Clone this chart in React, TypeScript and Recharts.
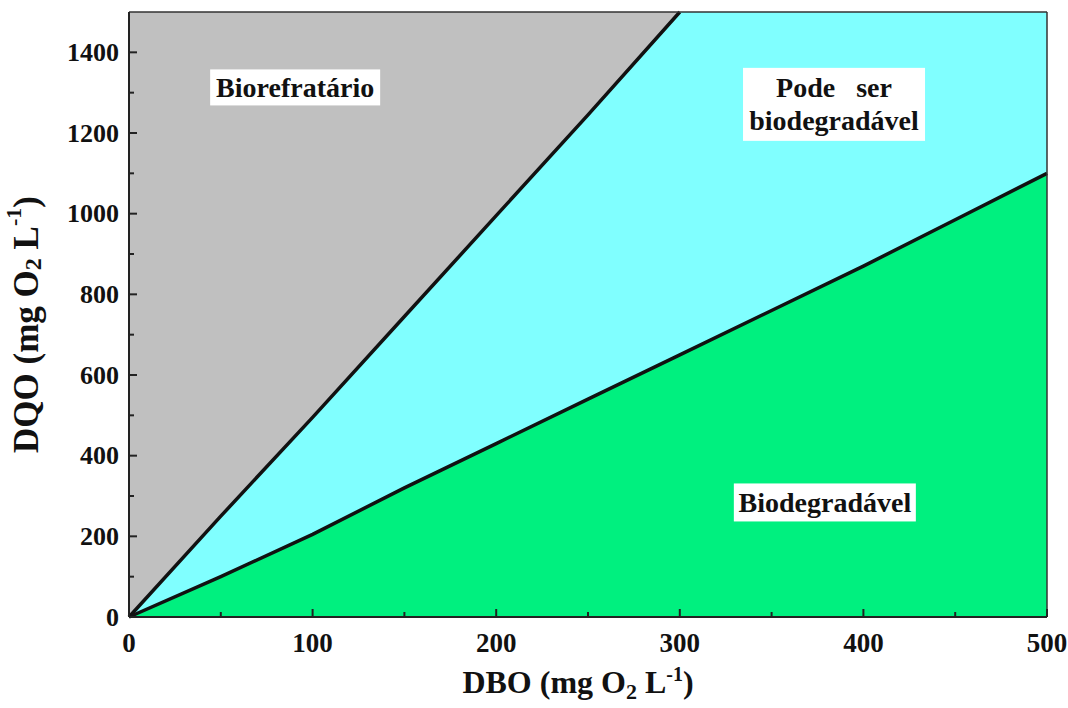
import React from "react"
import { ComposedChart, Area, Line, XAxis, YAxis, CartesianGrid, ReferenceLine, ReferenceDot, Label } from "recharts"

// DBO (x) sample points and the two boundary lines
const dbo = [0, 50, 100, 150, 200, 250, 300, 350, 400, 450, 500]
const dqoUpper = [0, 250, 495, 745, 995, 1245, 1500]
const dqoLower = [0, 100, 205, 320, 430, 540, 650, 760, 870, 985, 1100]
const dqoMax = 1500
const xTicks = [0, 50, 100, 150, 200, 250, 300, 350, 400, 450, 500]
const yTicks = [0, 100, 200, 300, 400, 500, 600, 700, 800, 900, 1000, 1100, 1200, 1300, 1400]

const FONT = "'Liberation Serif', 'DejaVu Serif', 'Times New Roman', serif"
const GRAY = "#c0c0c0"
const CYAN = "#80ffff"
const GREEN = "#00f07f"
const txt = { fontFamily: FONT, fontWeight: 700 }

const data = dbo.map((x, i) => ({
  dbo: x,
  upper: i < dqoUpper.length ? dqoUpper[i] : undefined,
  lower: dqoLower[i],
  refr: i < dqoUpper.length ? [dqoUpper[i], dqoMax] : undefined,
}))

const YTick = (props: any) => {
  const { x, y, payload } = props
  const major = payload.value % 200 === 0
  return (
    <g>
      <line x1={x} x2={x + (major ? 8 : 5)} y1={y} y2={y} stroke="#222" strokeWidth={2} />
      {major && (
        <text x={x - 10} y={y} textAnchor="end" dominantBaseline="central" style={txt} fontSize={26} fill="#111">
          {payload.value}
        </text>
      )}
    </g>
  )
}

const XTick = (props: any) => {
  const { x, y, payload } = props
  const major = payload.value % 100 === 0
  return (
    <g>
      <line x1={x} x2={x} y1={y} y2={y - (major ? 8 : 5)} stroke="#222" strokeWidth={2} />
      {major && (
        <text x={x} y={y + 26} textAnchor="middle" dominantBaseline="central" style={txt} fontSize={27} fill="#111">
          {payload.value}
        </text>
      )}
    </g>
  )
}

const RegionLabel = ({ cx, cy, lines, w, h, fs }: any) => (
  <g>
    <rect x={cx - w / 2} y={cy - h / 2} width={w} height={h} fill="#fff" />
    {lines.map((t: string, i: number) => (
      <text
        key={i}
        x={cx}
        y={cy + (i - (lines.length - 1) / 2) * 33}
        textAnchor="middle"
        dominantBaseline="central"
        fontSize={fs}
        fill="#111"
        style={{ ...txt, whiteSpace: "pre" }}
      >
        {t}
      </text>
    ))}
  </g>
)

export default function App() {
  return (
    <div style={{ position: "absolute", left: 0, top: 0, background: "#fff" }}>
      <ComposedChart width={1068} height={708} data={data} margin={{ top: 12, right: 21, left: 0, bottom: 0 }}>
        <CartesianGrid horizontal={false} vertical={false} fill={CYAN} />
        <XAxis
          dataKey="dbo"
          type="number"
          domain={[0, 500]}
          ticks={xTicks}
          interval={0}
          height={91}
          tickSize={0}
          tickMargin={0}
          tickLine={false}
          tick={<XTick />}
          axisLine={{ stroke: "#222", strokeWidth: 2 }}
        >
          <Label
            content={({ viewBox }: any) => (
              <text x={viewBox.x + viewBox.width / 2 - 10} y={viewBox.y + 76} textAnchor="middle" style={txt} fontSize={32} fill="#111">
                DBO (mg O<tspan fontSize={22} dy={6}>2</tspan>
                <tspan dy={-6}> L</tspan>
                <tspan fontSize={20} dy={-12}>-1</tspan>
                <tspan dy={12}>)</tspan>
              </text>
            )}
          />
        </XAxis>
        <YAxis
          type="number"
          domain={[0, dqoMax]}
          ticks={yTicks}
          interval={0}
          width={129}
          tickSize={0}
          tickMargin={0}
          tickLine={false}
          tick={<YTick />}
          axisLine={{ stroke: "#222", strokeWidth: 2 }}
        >
          <Label
            content={({ viewBox }: any) => {
              const cx = 26
              const cy = viewBox.y + viewBox.height / 2 + 10
              return (
                <text x={cx} y={cy} transform={`rotate(-90 ${cx} ${cy})`} textAnchor="middle" dominantBaseline="central" style={txt} fontSize={35} fill="#111">
                  DQO (mg O<tspan fontSize={24} dy={7}>2</tspan>
                  <tspan dy={-7}> L</tspan>
                  <tspan fontSize={22} dy={-13}>-1</tspan>
                  <tspan dy={13}>)</tspan>
                </text>
              )
            }}
          />
        </YAxis>
        <Area dataKey="refr" type="linear" fill={GRAY} fillOpacity={1} stroke="none" isAnimationActive={false} />
        <Area dataKey="lower" type="linear" fill={GREEN} fillOpacity={1} stroke="none" baseValue={0} isAnimationActive={false} />
        <Line dataKey="upper" type="linear" stroke="#111" strokeWidth={3.5} dot={false} isAnimationActive={false} />
        <Line dataKey="lower" type="linear" stroke="#111" strokeWidth={3.5} dot={false} isAnimationActive={false} />
        <ReferenceLine y={dqoMax} stroke="#333" strokeWidth={1.5} />
        <ReferenceLine x={500} stroke="#333" strokeWidth={1.5} />
        <ReferenceDot x={90.5} y={1313} r={0} shape={(p: any) => <RegionLabel {...p} lines={["Biorefratário"]} w={170} h={36} fs={28} />} />
        <ReferenceDot x={384} y={1271} r={0} shape={(p: any) => <RegionLabel {...p} lines={["Pode   ser", "biodegradável"]} w={182} h={73} fs={28} />} />
        <ReferenceDot x={379} y={284} r={0} shape={(p: any) => <RegionLabel {...p} lines={["Biodegradável"]} w={182} h={38} fs={28} />} />
      </ComposedChart>
    </div>
  )
}
